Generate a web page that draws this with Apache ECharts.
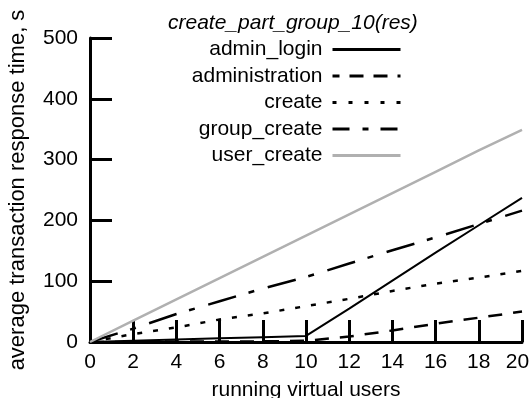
<!DOCTYPE html>
<html>
<head>
<meta charset="utf-8">
<script src="https://cdn.jsdelivr.net/npm/echarts@6/dist/echarts.min.js"></script>
<style>
  html, body { margin: 0; padding: 0; background: #ffffff; }
  #chart { width: 530px; height: 398px; }
</style>
</head>
<body>
<div id="chart"></div>
<script>
// Response time per transaction vs. number of running virtual users
const users = [0, 2, 4, 6, 8, 10, 12, 14, 16, 18, 20];
const adminLogin     = [0, 2, 4, 6, 8, 10, 55, 101, 147, 192, 237];
const administration = [0, 0, 1, 1, 1, 2, 9, 19, 30, 40, 50];
const createTx       = [0, 13, 24, 37, 47, 59, 71, 84, 96, 106, 117];
const groupCreate    = [0, 22, 46, 67, 88, 107, 129, 151, 172, 194, 216];
const userCreate     = [0, 35, 70, 105, 140, 175, 210, 245, 280, 315, 349];

const seriesNames = ['admin_login', 'administration', 'create', 'group_create', 'user_create'];
const yTicks = [0, 100, 200, 300, 400, 500];
const xTicks = [0, 2, 4, 6, 8, 10, 12, 14, 16, 18, 20];

const FONT = 'Liberation Sans, Arial, sans-serif';
const FS = 21;

const lineDefs = [
  { name: seriesNames[0], values: adminLogin,     color: '#000000', width: 2,   dash: 'solid',         legendDash: 'solid',         legendOffset: 0 },
  { name: seriesNames[1], values: administration, color: '#000000', width: 2.5, dash: [14, 11],        legendDash: [14, 10],        legendOffset: 7 },
  { name: seriesNames[2], values: createTx,       color: '#000000', width: 2.5, dash: [5, 11],         legendDash: [4, 12],         legendOffset: 0 },
  { name: seriesNames[3], values: groupCreate,    color: '#000000', width: 2.5, dash: [29, 13, 6, 14], legendDash: [17, 13, 6, 12], legendOffset: 0 },
  { name: seriesNames[4], values: userCreate,     color: '#b0b0b0', width: 2.5, dash: 'solid',         legendDash: 'solid',         legendOffset: 0 }
];

const chart = echarts.init(document.getElementById('chart'), null, { renderer: 'canvas' });

const axisCommon = {
  axisLine: { show: true, lineStyle: { color: '#000', width: 3 } },
  axisTick: { show: true, inside: true, length: 22, lineStyle: { color: '#000', width: 3 } },
  splitLine: { show: false },
  axisLabel: { color: '#000', fontFamily: FONT, fontSize: FS },
  nameTextStyle: { color: '#000', fontFamily: FONT, fontSize: FS }
};

const xMax = xTicks[xTicks.length - 1];

chart.setOption({
  animation: false,
  backgroundColor: '#ffffff',
  title: {
    text: 'create_part_group_10(res)',
    left: 168,
    top: 13,
    padding: 0,
    textStyle: { fontFamily: FONT, fontSize: FS, fontStyle: 'italic', fontWeight: 'normal', color: '#000' }
  },
  legend: {
    orient: 'vertical',
    align: 'right',
    right: 128,
    top: 39,
    padding: 0,
    itemWidth: 68,
    itemHeight: 14,
    itemGap: 5.5,
    textStyle: { fontFamily: FONT, fontSize: FS, color: '#000', padding: [0, 5, 0, 0] },
    data: lineDefs.map(d => ({
      name: d.name,
      itemStyle: { opacity: 0 },
      lineStyle: { color: d.color, width: 3, type: d.legendDash, dashOffset: d.legendOffset, cap: 'butt' }
    }))
  },
  grid: {
    left: 90,
    right: 8,
    top: 38,
    bottom: 56,
    containLabel: false,
    outerBoundsMode: 'none'
  },
  xAxis: Object.assign({}, axisCommon, {
    type: 'value',
    min: xTicks[0],
    max: xMax,
    interval: 2,
    name: 'running virtual users',
    nameLocation: 'middle',
    nameGap: 38,
    axisLabel: Object.assign({}, axisCommon.axisLabel, {
      margin: 10,
      // keep the last label inside the canvas
      formatter: v => (v === xMax ? '{last|' + v + '}' : String(v)),
      rich: { last: { fontFamily: FONT, fontSize: FS, color: '#000', padding: [0, 9, 0, 0] } }
    })
  }),
  yAxis: Object.assign({}, axisCommon, {
    type: 'value',
    min: yTicks[0],
    max: yTicks[yTicks.length - 1],
    interval: 100,
    name: 'average transaction response time, s',
    nameLocation: 'middle',
    nameGap: 61,
    nameTextStyle: { color: '#000', fontFamily: FONT, fontSize: 22 },
    axisLabel: Object.assign({}, axisCommon.axisLabel, { margin: 12 })
  }),
  series: lineDefs.map(d => ({
    name: d.name,
    type: 'line',
    symbol: 'none',
    data: users.map((u, i) => [u, d.values[i]]),
    lineStyle: { color: d.color, width: d.width, type: d.dash, cap: 'butt' },
    itemStyle: { color: d.color },
    emphasis: { disabled: true }
  }))
});
</script>
</body>
</html>
